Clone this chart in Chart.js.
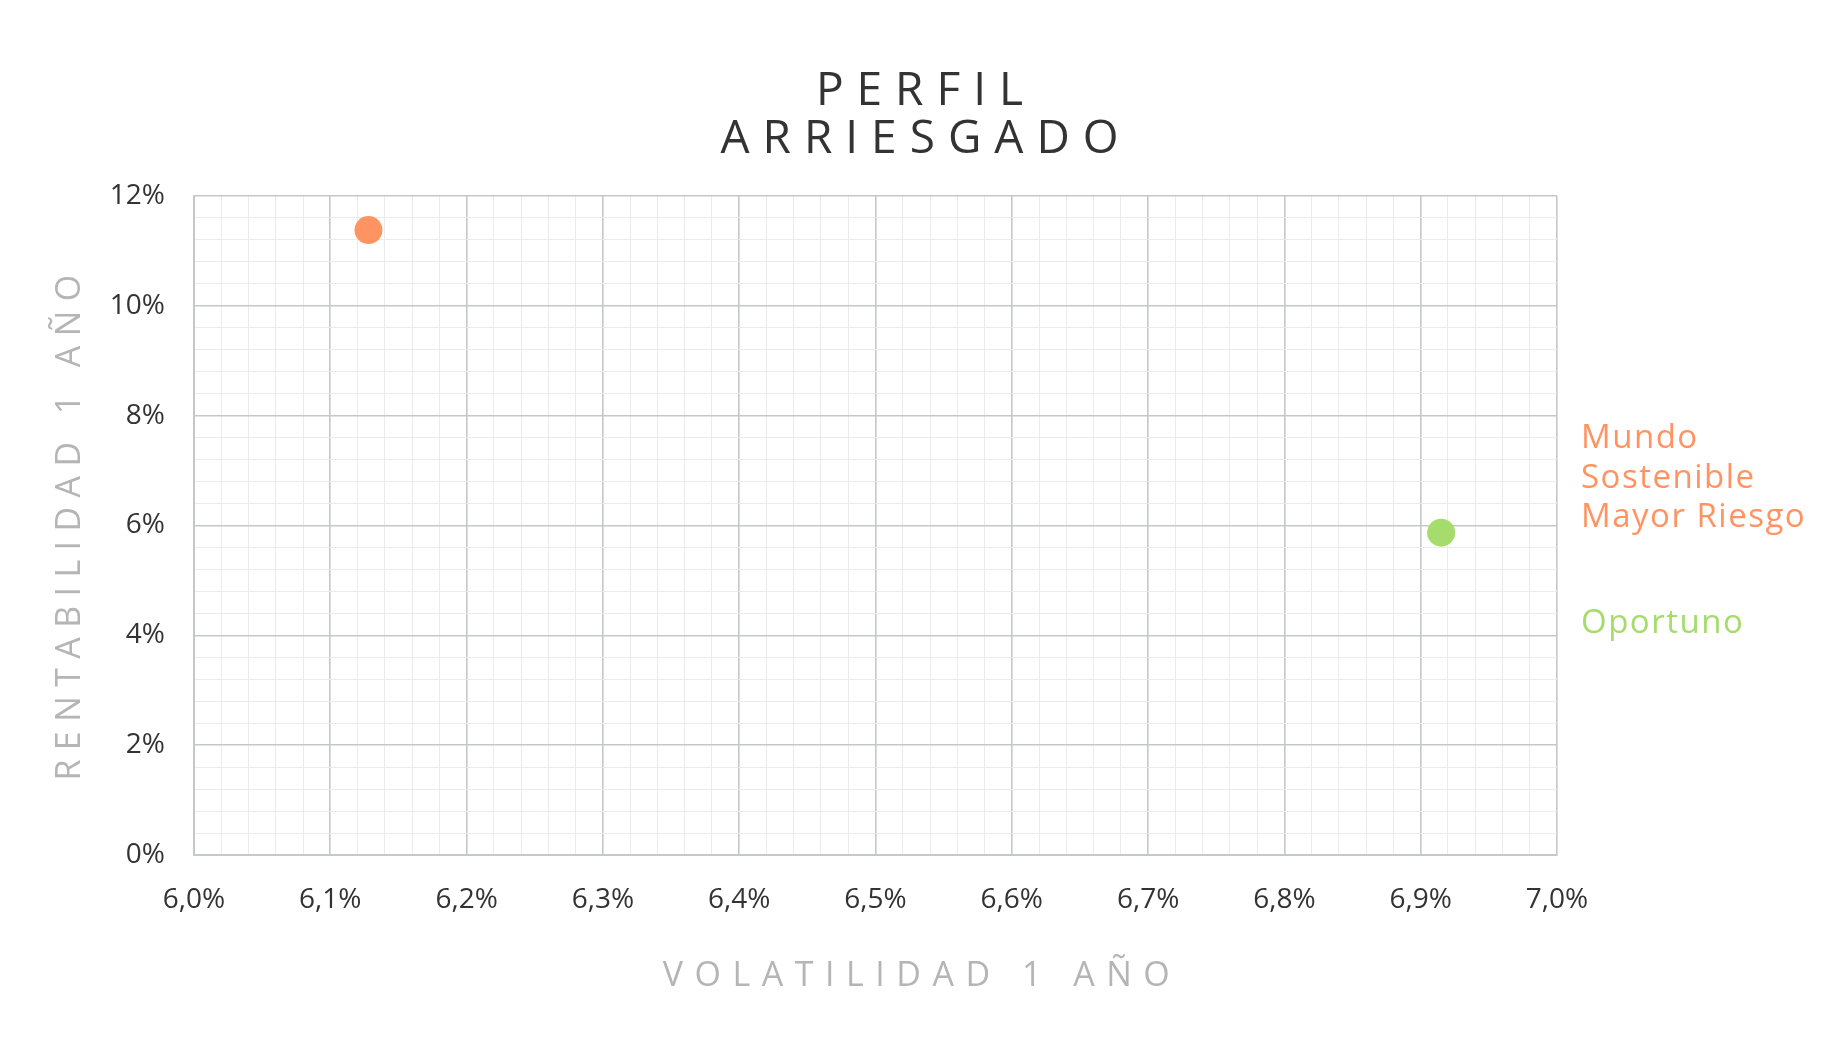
<!DOCTYPE html>
<html lang="es">

<head>
    <meta charset="UTF-8">
    <title>Perfil Arriesgado</title>
    <script src="https://cdn.jsdelivr.net/npm/chart.js"></script>
    <style>
        html, body {
            margin: 0;
            padding: 0;
            background: #ffffff;
        }

        canvas {
            display: block;
        }
    </style>
</head>

<body>
    <canvas id="mycanvas" width="1840" height="1056"></canvas>

    <script>
        // data
        const seriesLines = [['Mundo', 'Sostenible', 'Mayor Riesgo'], ['Oportuno']];
        const seriesColors = ['#ff9462', '#a5dc6c'];
        const volatilidad = [6.128, 6.915];
        const rentabilidad = [11.38, 5.87];

        const xTickLabels = ['6,0%', '6,1%', '6,2%', '6,3%', '6,4%', '6,5%', '6,6%', '6,7%', '6,8%', '6,9%', '7,0%'];
        const yTickLabels = ['0%', '2%', '4%', '6%', '8%', '10%', '12%'];

        const titleLines = ['PERFIL', 'ARRIESGADO'];
        const xTitle = 'VOLATILIDAD 1 AÑO';
        const yTitle = 'RENTABILIDAD 1 AÑO';

        const FONT = '"Open Sans", "Noto Sans", sans-serif';
        const majorGrid = '#c5c7ca';
        const minorGrid = '#ebebeb';

        // titles, axis titles and the right side labels (drawn with letter spacing)
        const textPlugin = {
            id: 'textPlugin',
            afterDraw(chart) {
                const ctx = chart.ctx;
                const area = chart.chartArea;
                const w = chart.width;
                const h = chart.height;
                ctx.save();

                // main title
                ctx.fillStyle = '#333333';
                ctx.font = '46px ' + FONT;
                ctx.letterSpacing = '13px';
                ctx.textAlign = 'center';
                ctx.textBaseline = 'alphabetic';
                ctx.fillText(titleLines[0], w / 2 + 6, 105);
                ctx.fillText(titleLines[1], w / 2 + 6, 153);

                // axis titles
                ctx.fillStyle = '#b5b5b5';
                ctx.font = '34px ' + FONT;
                ctx.letterSpacing = '11.5px';
                ctx.fillText(xTitle, w / 2 + 2, 986);

                ctx.save();
                ctx.letterSpacing = '9.4px';
                ctx.translate(80, h / 2 - 5);
                ctx.rotate(-Math.PI / 2);
                ctx.fillText(yTitle, 0, 0);
                ctx.restore();

                // series names on the right
                ctx.font = '33px ' + FONT;
                ctx.letterSpacing = '1.5px';
                ctx.textAlign = 'left';
                const lh = 39.5;
                const gap = 66;
                const capH = 33 * 0.714;
                let nLines = 0;
                seriesLines.forEach(l => nLines += l.length);
                const blockH = (nLines - 1) * lh + (seriesLines.length - 1) * gap + capH;
                let y = (area.top + area.bottom) / 2 - blockH / 2 + capH + 3;
                const x = area.right + 24;
                seriesLines.forEach((lines, i) => {
                    ctx.fillStyle = seriesColors[i];
                    lines.forEach((line, j) => {
                        ctx.fillText(line, x, y);
                        if (j < lines.length - 1) y += lh;
                    });
                    y += lh + gap;
                });

                ctx.restore();
            }
        };

        const datasets = seriesLines.map((lines, i) => ({
            label: lines.join(' '),
            data: [{ x: volatilidad[i], y: rentabilidad[i] }],
            backgroundColor: seriesColors[i],
            borderWidth: 0,
            pointRadius: 14,
            pointHoverRadius: 14
        }));

        const ctx = document.getElementById('mycanvas').getContext('2d');

        new Chart(ctx, {
            type: 'scatter',
            data: { datasets: datasets },
            options: {
                responsive: false,
                animation: false,
                devicePixelRatio: 1,
                layout: {
                    padding: { left: 104, right: 283, top: 196, bottom: 119 }
                },
                plugins: {
                    legend: { display: false },
                    title: { display: false },
                    tooltip: { enabled: false }
                },
                scales: {
                    x: {
                        type: 'linear',
                        min: 6.0,
                        max: 7.0,
                        afterFit: scale => { scale.height = 82; },
                        ticks: {
                            stepSize: 0.02,
                            autoSkip: false,
                            maxRotation: 0,
                            padding: 28,
                            color: '#333333',
                            font: { family: FONT, size: 28 },
                            callback: (value, index) => index % 5 === 0 ? xTickLabels[index / 5] : ''
                        },
                        grid: {
                            drawTicks: false,
                            color: c => c.index % 5 === 0 ? majorGrid : minorGrid,
                            lineWidth: c => c.index % 5 === 0 ? 1.6 : 1
                        },
                        border: { color: majorGrid, width: 2 }
                    },
                    y: {
                        type: 'linear',
                        min: 0,
                        max: 12,
                        afterFit: scale => { scale.width = 90; },
                        ticks: {
                            stepSize: 0.4,
                            autoSkip: false,
                            padding: 29,
                            color: '#333333',
                            font: { family: FONT, size: 28 },
                            callback: (value, index) => index % 5 === 0 ? yTickLabels[index / 5] : ''
                        },
                        grid: {
                            drawTicks: false,
                            color: c => c.index % 5 === 0 ? majorGrid : minorGrid,
                            lineWidth: c => c.index % 5 === 0 ? 1.6 : 1
                        },
                        border: { color: majorGrid, width: 2 }
                    }
                }
            },
            plugins: [textPlugin]
        });
    </script>

</body>

</html>
